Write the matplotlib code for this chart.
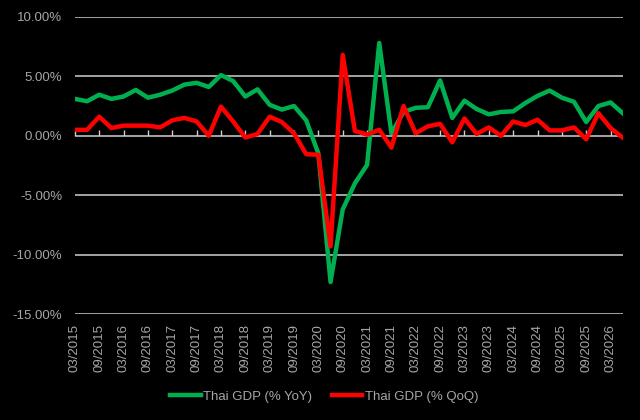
import numpy as np
import matplotlib
matplotlib.use("Agg")
import matplotlib.pyplot as plt

plt.rcParams['font.family'] = ['Liberation Sans', 'DejaVu Sans']

# quarters 03/2015 .. 06/2026
quarters = [f"{m:02d}/{y}" for y in range(2015, 2027) for m in (3, 6, 9, 12)][:46]

# Thai GDP, % YoY
gdp_yoy = [3.1, 2.9, 3.45, 3.1, 3.3, 3.85, 3.2, 3.45, 3.8, 4.3,
           4.45, 4.1, 5.1, 4.6, 3.3, 3.9, 2.6, 2.2, 2.5, 1.3,
           -1.5, -12.3, -6.2, -4.0, -2.45, 7.8, 0.2, 2.0, 2.35, 2.4,
           4.65, 1.5, 2.95, 2.25, 1.8, 2.0, 2.05, 2.75, 3.35, 3.8,
           3.2, 2.85, 1.15, 2.5, 2.8, 1.9]

# Thai GDP, % QoQ
gdp_qoq = [0.5, 0.5, 1.6, 0.65, 0.85, 0.85, 0.85, 0.7, 1.3, 1.5,
           1.2, 0.0, 2.45, 1.2, -0.15, 0.15, 1.6, 1.15, 0.2, -1.55,
           -1.6, -9.3, 6.8, 0.4, 0.1, 0.5, -1.0, 2.5, 0.2, 0.8,
           1.0, -0.55, 1.45, 0.15, 0.7, 0.0, 1.2, 0.9, 1.35, 0.45,
           0.45, 0.7, -0.3, 1.9, 0.65, -0.15]

x = np.arange(len(quarters))
grey = '#a6a6a6'

fig = plt.figure(figsize=(6.4, 4.2), dpi=100, facecolor='black')
ax = fig.add_axes([0.117, 0.252, 0.856, 0.708], facecolor='black')

# horizontal grid
for v in range(-15, 11, 5):
    ax.axhline(v, color='#d0d0d0', lw=1.1, zorder=1)

ax.plot(x, gdp_yoy, color='#00b050', lw=3.2, label='Thai GDP (% YoY)', zorder=3)
ax.plot(x, gdp_qoq, color='#ff0000', lw=3.2, label='Thai GDP (% QoQ)', zorder=4)

ax.set_xlim(0, len(quarters) - 1)
ax.set_ylim(-15, 10)
ax.set_yticks(range(-15, 11, 5))
ax.set_yticklabels([f"{v:.2f}%" for v in range(-15, 11, 5)])
ax.set_xticks(x[::2])
ax.set_xticklabels(quarters[::2], rotation=90)
ax.tick_params(axis='x', length=0, pad=7, labelsize=9.5, labelcolor=grey)
ax.tick_params(axis='y', length=0, pad=9, labelsize=9.5, labelcolor=grey)
for s in ax.spines.values():
    s.set_visible(False)

# small tick marks hanging from the 0% line
sec = ax.secondary_xaxis(0.6)
sec.set_xticks(x[::2])
sec.set_xticklabels([])
sec.tick_params(axis='x', direction='out', length=4, width=1, color='#d0d0d0')
sec.spines['bottom'].set_visible(False)

leg = fig.legend(loc='center', bbox_to_anchor=(0.507, 0.055), ncol=2,
                 frameon=False, fontsize=9.5, handlelength=2.3,
                 handletextpad=0.2, columnspacing=1.5)
for t in leg.get_texts():
    t.set_color(grey)

fig.savefig('out.png', dpi=100, facecolor='black')
